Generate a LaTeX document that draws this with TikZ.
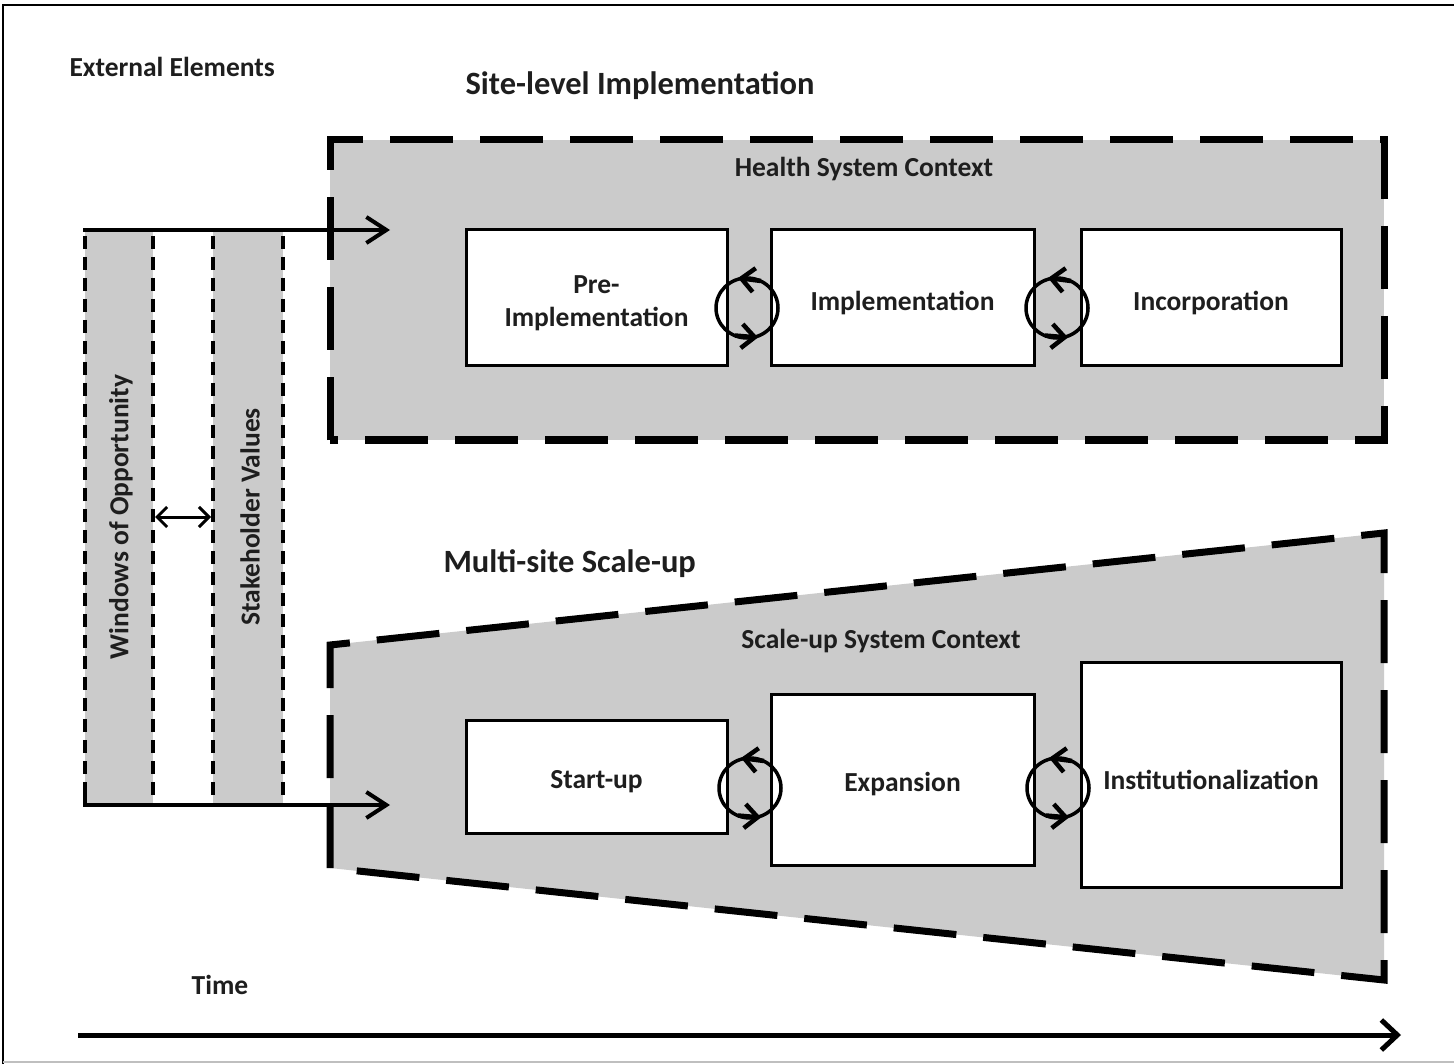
\documentclass[tikz,border=0pt]{standalone}
\usepackage{fontspec}
\setmainfont{Carlito}
\usetikzlibrary{arrows.meta}
\definecolor{greyfill}{RGB}{203,203,203}
\definecolor{ink}{RGB}{30,30,30}
\begin{document}
\begin{tikzpicture}[x=1pt,y=-1pt,
  lbl/.style={font=\bfseries\fontsize{27.5}{33}\selectfont, text=ink, align=center},
  ttl/.style={font=\bfseries\fontsize{32.5}{36}\selectfont, text=ink},
  stagebox/.style={draw, line width=3pt, fill=white, inner sep=0pt},
  stagetext/.style={lbl, yshift=-5pt},
  bigdash/.style={line width=7pt, dash pattern=on 63pt off 27pt, fill=greyfill},
  stripedash/.style={line width=3.5pt, dash pattern=on 13pt off 8pt},
  arr/.style={-{Straight Barb[length=20pt,width=26pt]}, line width=4pt},
  cycarr/.style={line width=3.5pt},
  cyctip/.style={line width=4.5pt, -{Straight Barb[length=13pt,width=24pt]}},
  cyc/.pic={
    \draw[cycarr] (0,0) ellipse [x radius=31, y radius=30];
    \draw[cyctip] (14,-27) -- (-9,-30);
    \draw[cyctip] (-12,27.5) -- (11,29.5);
  }
]
\useasboundingbox (0,0) rectangle (1454,1064);
% frame
\draw[line width=2.5pt] (3,1064) -- (3,5) -- (1454,5);
\draw[black!25, line width=1.5pt] (3,1062) -- (1454,1062);

% titles
\node[lbl, anchor=west] (ext) at (66,67) {External Elements};
\node[ttl, anchor=west] (site) at (462,86) {Site-level Implementation};
\node[ttl, anchor=west] (multi) at (440,564) {Multi-site Scale-up};
\node[lbl] (time) at (220,985) {Time};

% site-level context
\draw[bigdash] (330,440) -- (330,140) -- (1384,140) -- (1384,440) -- cycle;
\node[lbl] (hsc) at (864,169) {Health System Context};

% scale-up context
\draw[bigdash] (330,868) -- (330,645) -- (1384,533) -- (1384,980) -- cycle;
\node[lbl] (ssc) at (881,641) {Scale-up System Context};

% external elements stripes
\fill[greyfill] (85,230) rectangle (153,805);
\fill[greyfill] (213,230) rectangle (283,805);
\foreach \xx/\nm in {85/sa,153/sb,213/sc,283/sd}{
  \coordinate (\nm t) at (\xx,236);
  \coordinate (\nm b) at (\xx,800);
  \draw[stripedash] (\nm t) -- (\nm b);
}
\node[lbl, rotate=90] (wo) at (121,517) {Windows of Opportunity};
\node[lbl, rotate=90] (sv) at (250,517) {Stakeholder Values};
\coordinate (dl) at (155,517);
\coordinate (dr) at (211,517);
\draw[line width=3pt, {Straight Barb[length=10pt,width=20pt]}-{Straight Barb[length=10pt,width=20pt]}] (dl) -- (dr);

\coordinate (ts) at (83,230);
\coordinate (te) at (390,230);
\coordinate (bs) at (83,805);
\coordinate (be) at (390,805);
\draw[arr] (ts) -- (te);
\draw[arr] (bs) -- (be);
\draw[line width=4pt] (85,805) -- (85,795);

% site-level stages
\node[stagebox, minimum width=261pt, minimum height=136pt,
  label={[stagetext]center:{Pre-\\Implementation}}] (pre) at (596.5,298) {};
\node[stagebox, minimum width=263pt, minimum height=136pt,
  label={[stagetext]center:Implementation}] (imp) at (902.5,298) {};
\node[stagebox, minimum width=260pt, minimum height=136pt,
  label={[stagetext]center:Incorporation}] (inc) at (1211,298) {};
\pic at (747,308) {cyc};
\pic at (1057,308) {cyc};

% scale-up stages
\node[stagebox, minimum width=261pt, minimum height=113pt,
  label={[stagetext]center:Start-up}] (start) at (596.5,776.5) {};
\node[stagebox, minimum width=263pt, minimum height=171pt,
  label={[stagetext]center:Expansion}] (exp) at (902.5,779.5) {};
\node[stagebox, minimum width=260pt, minimum height=225pt,
  label={[stagetext]center:Institutionalization}] (inst) at (1211,774.5) {};
\pic at (750,788) {cyc};
\pic at (1058,788) {cyc};

% time axis
\coordinate (t0) at (78,1035);
\coordinate (t1) at (1401,1035);
\draw[line width=5pt, -{Straight Barb[length=16pt,width=30pt]}] (t0) -- (t1);
\end{tikzpicture}
\end{document}
